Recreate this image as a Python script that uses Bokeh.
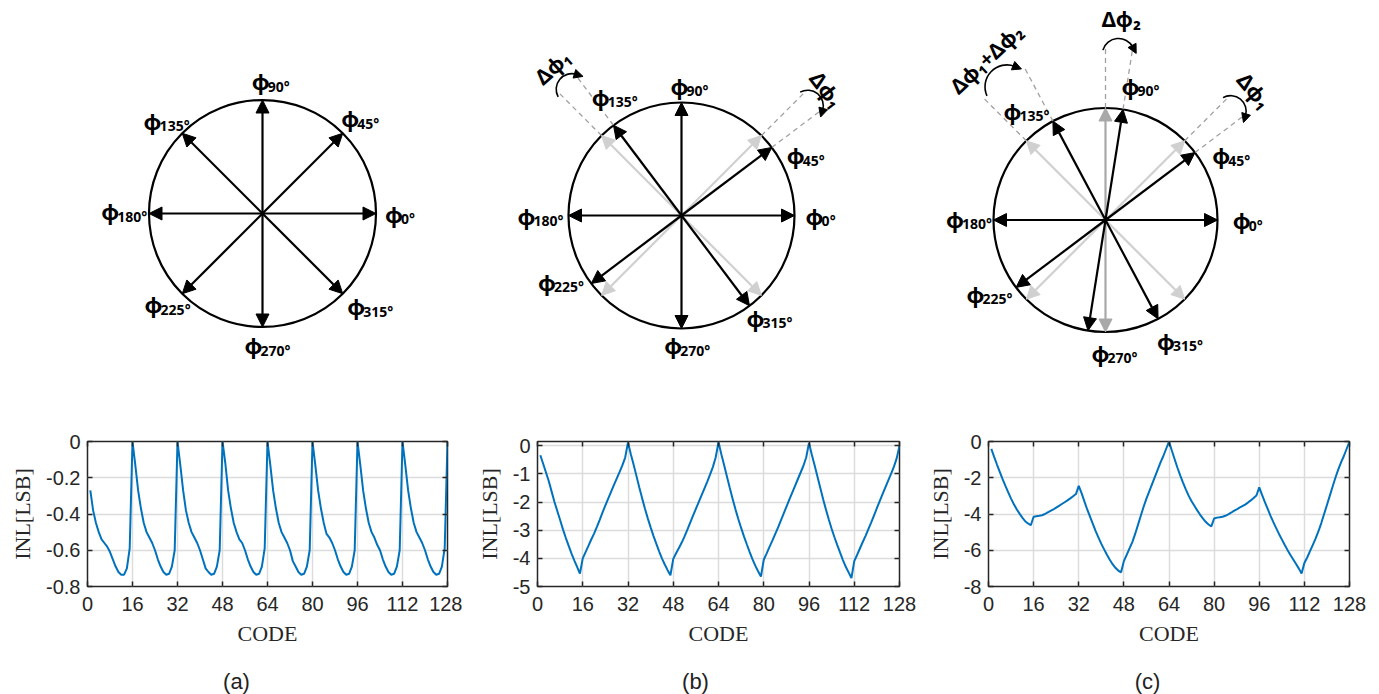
import math
from bokeh.plotting import figure
from bokeh.layouts import column, row
from bokeh.models import Range1d, Arrow, NormalHead, LinearAxis, FixedTicker
from bokeh.core.properties import value
from bokeh.embed import file_html
from bokeh.resources import INLINE

# ---------------- data ----------------
codes = list(range(1, 129))

inl_a = [
    -0.27, -0.38, -0.45, -0.50, -0.54, -0.56, -0.58, -0.61, -0.65, -0.69, -0.72, -0.735, -0.735, -0.70, -0.59, 0.0,
    -0.13, -0.27, -0.37, -0.45, -0.50, -0.53, -0.56, -0.60, -0.65, -0.69, -0.72, -0.735, -0.73, -0.69, -0.60, 0.0,
    -0.13, -0.27, -0.38, -0.45, -0.50, -0.53, -0.56, -0.60, -0.65, -0.70, -0.72, -0.735, -0.73, -0.69, -0.60, 0.0,
    -0.12, -0.27, -0.37, -0.45, -0.50, -0.54, -0.56, -0.60, -0.65, -0.69, -0.72, -0.735, -0.73, -0.69, -0.59, 0.0,
    -0.13, -0.27, -0.37, -0.45, -0.50, -0.53, -0.56, -0.60, -0.66, -0.69, -0.72, -0.735, -0.73, -0.69, -0.60, 0.0,
    -0.13, -0.27, -0.37, -0.45, -0.51, -0.53, -0.56, -0.60, -0.65, -0.69, -0.72, -0.735, -0.73, -0.69, -0.60, 0.0,
    -0.13, -0.27, -0.37, -0.45, -0.50, -0.53, -0.57, -0.60, -0.65, -0.69, -0.72, -0.735, -0.73, -0.69, -0.60, 0.0,
    -0.13, -0.27, -0.37, -0.45, -0.50, -0.53, -0.56, -0.60, -0.65, -0.69, -0.72, -0.735, -0.73, -0.69, -0.59, 0.0,
]

inl_b = [
    -0.34, -0.64, -0.95, -1.26, -1.63, -2.00, -2.32, -2.64, -2.97, -3.27, -3.55, -3.82, -4.07, -4.30, -4.54,
    -4.00, -3.78, -3.56, -3.33, -3.12, -2.88, -2.63, -2.37, -2.12, -1.88, -1.64, -1.40, -1.17, -0.94, -0.70, -0.42, 0.12,
    -0.30, -0.68, -1.08, -1.48, -1.87, -2.24, -2.58, -2.90, -3.20, -3.48, -3.75, -4.00, -4.22, -4.42, -4.60,
    -4.02, -3.82, -3.63, -3.44, -3.22, -2.98, -2.73, -2.48, -2.24, -2.00, -1.76, -1.52, -1.28, -1.03, -0.76, -0.42, 0.13,
    -0.30, -0.69, -1.10, -1.50, -1.89, -2.26, -2.60, -2.92, -3.22, -3.50, -3.77, -4.03, -4.26, -4.46, -4.65,
    -4.05, -3.83, -3.60, -3.38, -3.15, -2.92, -2.67, -2.42, -2.17, -1.92, -1.68, -1.44, -1.20, -0.96, -0.72, -0.42, 0.10,
    -0.32, -0.70, -1.10, -1.50, -1.90, -2.27, -2.62, -2.95, -3.25, -3.53, -3.80, -4.06, -4.30, -4.50, -4.70,
    -4.10, -3.88, -3.65, -3.42, -3.20, -2.96, -2.72, -2.47, -2.22, -1.97, -1.72, -1.48, -1.24, -1.00, -0.75, -0.45, 0.0,
]

inl_c = [
    -0.41, -0.85, -1.27, -1.67, -2.07, -2.45, -2.81, -3.15, -3.46, -3.74, -3.98, -4.20, -4.40, -4.52, -4.62,
    -4.15, -4.12, -4.10, -4.07, -4.00, -3.91, -3.83, -3.75, -3.65, -3.55, -3.45, -3.35, -3.25, -3.14, -3.02, -2.90, -2.45,
    -2.85, -3.30, -3.75, -4.15, -4.55, -4.95, -5.30, -5.65, -5.95, -6.25, -6.52, -6.77, -6.97, -7.12, -7.22,
    -6.60, -6.25, -5.90, -5.55, -5.10, -4.60, -4.10, -3.60, -3.15, -2.75, -2.35, -1.95, -1.55, -1.15, -0.80, -0.40, 0.0,
    -0.50, -0.98, -1.45, -1.88, -2.28, -2.65, -3.00, -3.30, -3.55, -3.80, -4.03, -4.24, -4.43, -4.58, -4.68,
    -4.25, -4.20, -4.18, -4.15, -4.10, -4.02, -3.93, -3.83, -3.75, -3.65, -3.57, -3.48, -3.37, -3.25, -3.12, -2.98, -2.53,
    -2.95, -3.35, -3.72, -4.10, -4.45, -4.78, -5.10, -5.40, -5.70, -5.98, -6.25, -6.50, -6.75, -7.00, -7.28,
    -6.70, -6.40, -6.05, -5.70, -5.35, -4.95, -4.50, -4.00, -3.50, -3.00, -2.50, -2.00, -1.55, -1.15, -0.80, -0.40, 0.0,
]

x_ticks = [0, 16, 32, 48, 64, 80, 96, 112, 128]
x_tick_labels = ["0", "16", "32", "48", "64", "80", "96", "112", "128"]
y_ticks_a = [-0.8, -0.6, -0.4, -0.2, 0]
y_labels_a = ["-0.8", "-0.6", "-0.4", "-0.2", "0"]
y_ticks_b = [-5, -4, -3, -2, -1, 0]
y_labels_b = ["-5", "-4", "-3", "-2", "-1", "0"]
y_ticks_c = [-8, -6, -4, -2, 0]
y_labels_c = ["-8", "-6", "-4", "-2", "0"]

phase_angles = [0, 45, 90, 135, 180, 225, 270, 315]
phase_subs = ["0°", "45°", "90°", "135°", "180°", "225°", "270°", "315°"]
shift_a = [0, 0, 0, 0, 0, 0, 0, 0]
shift_b = [0, -8, 0, -8, 0, -8, 0, -8]
shift_c = [0, -8, -9, -17, 0, -8, -9, -17]
panel_labels = ["(a)", "(b)", "(c)"]

# ---------------- layout constants ----------------
FONT_SANS = "Liberation Sans"
FONT_SERIF = "Liberation Serif"
FONT_DIAG = "Noto Sans"
LINE_BLUE = "#0072BD"
AX_COL = "#262626"
PAGE_H = 694
TOP_H = 425
ROW_H = 235
LAB_H = PAGE_H - TOP_H - ROW_H

# top (phasor) canvas: data x = page x, data y = PAGE_H - page y
diagrams = [
    dict(c=(262, 481), r=113.5, shift=shift_a,
         lab_ang=[0, 44, 86, 135.6, 179, 224, 272.6, 319.5],
         lab_rf=[1.22, 1.21, 1.17, 1.17, 1.21, 1.15, 1.16, 1.26],
         dashed=[], deltas=[]),
    dict(c=(681, 479), r=113, shift=shift_b,
         lab_ang=[0, 25.6, 86, 119, 180, 209, 273, 311],
         lab_rf=[1.24, 1.23, 1.15, 1.20, 1.24, 1.21, 1.15, 1.20],
         dashed=[1, 3],
         deltas=[(1, "Δϕ₁", -53, 1.70), (3, "Δϕ₁", 42, 1.74)]),
    dict(c=(1105, 474.5), r=112, shift=shift_c,
         lab_ang=[0, 27, 75, 125.5, 179.4, 212.6, 274.3, 302],
         lab_rf=[1.28, 1.27, 1.24, 1.20, 1.21, 1.22, 1.19, 1.27],
         dashed=[1, 2, 3],
         deltas=[(1, "Δϕ₁", -50, 1.76), (2, "Δϕ₂", 0, 1.80), (3, "Δϕ₁+Δϕ₂", 43, 1.79)]),
]

top = figure(width=1379, height=TOP_H, x_range=Range1d(0, 1379), y_range=Range1d(PAGE_H - TOP_H, PAGE_H),
             output_backend="svg", toolbar_location=None, min_border=0,
             x_axis_location=None, y_axis_location=None)
top.grid.visible = False
top.outline_line_color = None


def add_arrow(p, x0, y0, x1, y1, col, size=13, lw=2.2):
    p.add_layout(Arrow(end=NormalHead(size=size, fill_color=col, line_color=col, line_width=1),
                       x_start=x0, y_start=y0, x_end=x1, y_end=y1,
                       line_color=col, line_width=lw))


LIGHT = "#d0d0d0"
MID = "#a8a8a8"
DASH = "#a0a0a0"

for d in diagrams:
    cx, cy = d["c"]
    r = d["r"]
    top.circle(x=[cx], y=[cy], radius=r, fill_color=None, line_color="black", line_width=2.2)
    for i in d["dashed"]:
        for ang in (phase_angles[i], phase_angles[i] + d["shift"][i]):
            t = math.radians(ang)
            top.segment(x0=[cx + r * math.cos(t)], y0=[cy + r * math.sin(t)],
                        x1=[cx + 1.55 * r * math.cos(t)], y1=[cy + 1.55 * r * math.sin(t)],
                        line_color=DASH, line_width=1.3, line_dash="5 4")
    for i, ang in enumerate(phase_angles):
        if d["shift"][i] != 0:
            t = math.radians(ang)
            col = MID if ang in (90, 270) else LIGHT
            add_arrow(top, cx, cy, cx + r * math.cos(t), cy + r * math.sin(t), col)
    for i, ang in enumerate(phase_angles):
        t = math.radians(ang + d["shift"][i])
        add_arrow(top, cx, cy, cx + r * math.cos(t), cy + r * math.sin(t), "black")
    phx, phy, sx, sy, stx = [], [], [], [], []
    for i, ang in enumerate(phase_angles):
        t = math.radians(d["lab_ang"][i])
        lx = cx + d["lab_rf"][i] * r * math.cos(t)
        ly = cy + d["lab_rf"][i] * r * math.sin(t)
        w = 16 + 8.0 * len(phase_subs[i])
        left = lx - w / 2
        phx.append(left); phy.append(ly)
        sx.append(left + 16); sy.append(ly - 5); stx.append(phase_subs[i])
    top.text(x=phx, y=phy, text=["ϕ"] * 8, text_font=value(FONT_DIAG), text_font_style="bold",
             text_font_size="22px", text_align="left", text_baseline="middle", text_color="black")
    top.text(x=sx, y=sy, text=stx, text_font=value(FONT_DIAG), text_font_style="bold",
             text_font_size="14px", text_align="left", text_baseline="middle", text_color="black")
    for (i, label, rot, rf) in d["deltas"]:
        s = d["shift"][i]
        tm = phase_angles[i] + s / 2.0
        tmr = math.radians(tm)
        ax = cx + 1.48 * r * math.cos(tmr)
        ay = cy + 1.48 * r * math.sin(tmr)
        rho = 10 + 0.7 * abs(s)
        ts = math.radians(tm + 78)
        te = math.radians(tm - 58)
        top.arc(x=[ax], y=[ay], radius=rho, start_angle=ts, end_angle=te, direction="clock",
                line_color="black", line_width=1.6)
        ex = ax + rho * math.cos(te)
        ey = ay + rho * math.sin(te)
        tx, ty = math.sin(te), -math.cos(te)
        top.add_layout(Arrow(end=NormalHead(size=9, fill_color="black", line_color="black"),
                             x_start=ex - tx, y_start=ey - ty, x_end=ex + 7 * tx, y_end=ey + 7 * ty,
                             line_color="black", line_width=1.6))
        top.text(x=[cx + rf * r * math.cos(tmr)], y=[cy + rf * r * math.sin(tmr)], text=[label],
                 angle=math.radians(rot), text_font=value(FONT_DIAG), text_font_style="bold",
                 text_font_size="21px", text_align="center", text_baseline="middle", text_color="black")


# ---------------- INL plots ----------------
def inl_figure(vals, yr, yticks, ylabels, width, mbl, mbr, mbt, mbb):
    p = figure(width=width, height=ROW_H, x_range=Range1d(0, 128), y_range=Range1d(*yr),
               output_backend="svg", toolbar_location=None,
               min_border_left=mbl, min_border_right=mbr, min_border_top=mbt, min_border_bottom=mbb)
    p.line(codes, vals, line_color=LINE_BLUE, line_width=2)
    p.xaxis.ticker = FixedTicker(ticks=x_ticks)
    p.yaxis.ticker = FixedTicker(ticks=yticks)
    p.xaxis.major_label_overrides = {t: s for t, s in zip(x_ticks, x_tick_labels)}
    p.yaxis.major_label_overrides = {t: s for t, s in zip(yticks, ylabels)}
    p.xaxis.axis_label = "CODE"
    p.yaxis.axis_label = "INL[LSB]"
    for ax in (p.xaxis[0], p.yaxis[0]):
        ax.axis_line_color = None
        ax.major_tick_in = 5
        ax.major_tick_out = 0
        ax.major_tick_line_color = AX_COL
        ax.major_tick_line_width = 1.5
        ax.minor_tick_line_color = None
        ax.major_label_text_font = FONT_SANS
        ax.major_label_text_font_size = "20px"
        ax.major_label_text_color = AX_COL
        ax.axis_label_text_font = FONT_SERIF
        ax.axis_label_text_font_size = "22px"
        ax.axis_label_text_font_style = "normal"
        ax.axis_label_text_color = AX_COL
    p.xaxis.major_label_standoff = 10
    p.xaxis.axis_label_standoff = 7
    p.yaxis.major_label_standoff = 7
    p.yaxis.axis_label_standoff = 8
    p.grid.grid_line_color = "#dcdcdc"
    p.grid.grid_line_width = 1.5
    p.outline_line_color = AX_COL
    p.outline_line_width = 1.5
    p.outline_line_alpha = 1.0
    for loc, tk in (("above", x_ticks), ("right", yticks)):
        ax = LinearAxis(ticker=FixedTicker(ticks=tk),
                        major_label_overrides={t: "" for t in tk},
                        major_label_text_font_size="0px", major_label_standoff=0,
                        axis_line_color=None, major_tick_in=5, major_tick_out=0,
                        major_tick_line_color=AX_COL, major_tick_line_width=1.5,
                        minor_tick_line_color=None)
        p.add_layout(ax, loc)
    return p


pa = inl_figure(inl_a, (-0.8, 0), y_ticks_a, y_labels_a, 462, 87, 15, 16, 73)
pb = inl_figure(inl_b, (-5, 0.15), y_ticks_b, y_labels_b, 456, 75, 19, 11, 74)
pc = inl_figure(inl_c, (-8, 0), y_ticks_c, y_labels_c, 461, 70, 30, 15, 72)

# ---------------- panel labels ----------------
lab = figure(width=1379, height=LAB_H, x_range=Range1d(0, 1379), y_range=Range1d(0, LAB_H),
             output_backend="svg", toolbar_location=None, min_border=0,
             x_axis_location=None, y_axis_location=None)
lab.grid.visible = False
lab.outline_line_color = None
lab.text(x=[236, 695, 1147], y=[PAGE_H - 681] * 3, text=panel_labels, text_font=value(FONT_SANS),
         text_font_size="22px", text_align="center", text_baseline="middle", text_color="#222222")

layout = column(top, row(pa, pb, pc), lab)
open("out.html", "w").write(file_html(layout, INLINE))
